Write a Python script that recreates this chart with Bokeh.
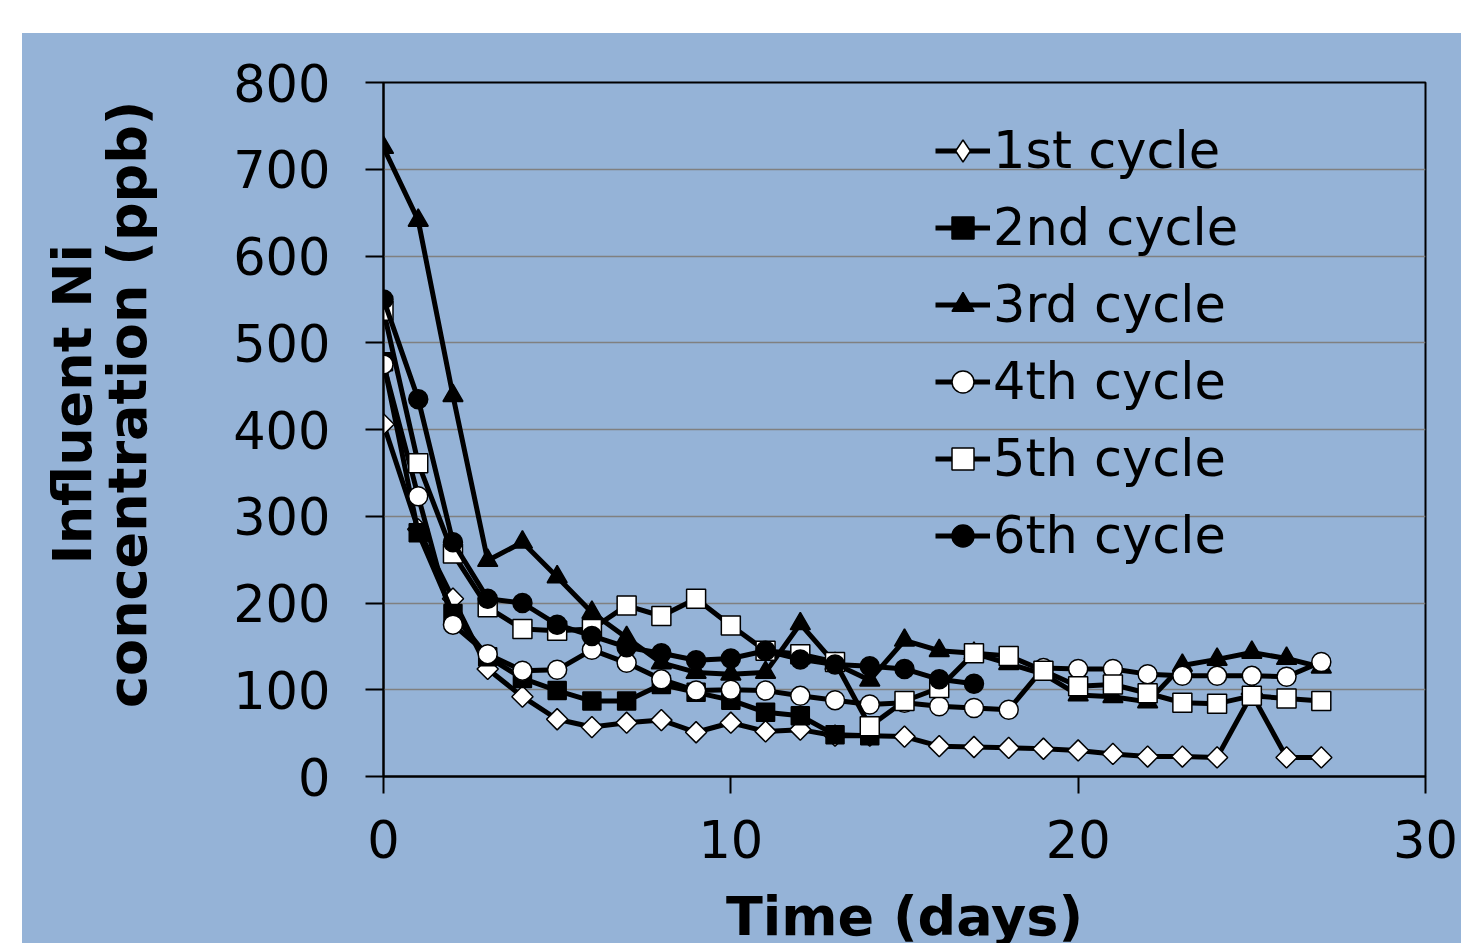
import math
from bokeh.plotting import figure
from bokeh.layouts import row
from bokeh.models import Legend, LegendItem, FixedTicker
from bokeh.core.properties import value
from bokeh.embed import file_html
from bokeh.resources import INLINE

# ---------------- data ----------------
days = list(range(28))
cycle1 = [406, 285, 205, 124, 92, 66, 57, 62, 65, 51, 62, 52, 54, 47, 47, 46, 35, 34,
          33, 32, 30, 26, 23, 23, 22, 95, 22, 22]
cycle2 = [478, 281, 188, 138, 113, 99, 87, 87, 106, 97, 88, 74, 70, 48, 47]
cycle3 = [725, 641, 439, 249, 270, 230, 189, 160, 131, 120, 118, 120, 176, 130, 111, 157,
          145, 142, 130, 118, 94, 92, 86, 128, 135, 143, 136, 126]
cycle4 = [475, 323, 175, 141, 122, 123, 146, 131, 112, 99, 100, 99, 93, 88, 83, 85, 81,
          79, 77, 125, 124, 124, 118, 116, 116, 116, 115, 132]
cycle5 = [537, 361, 257, 195, 170, 168, 170, 197, 185, 205, 174, 145, 141, 132, 58, 87,
          102, 142, 139, 122, 104, 106, 96, 85, 84, 93, 90, 87]
cycle6 = [550, 435, 270, 205, 200, 175, 162, 149, 142, 134, 136, 145, 135, 129, 127, 124,
          112, 107]

series_names = ["1st cycle", "2nd cycle", "3rd cycle", "4th cycle", "5th cycle", "6th cycle"]
series_values = [cycle1, cycle2, cycle3, cycle4, cycle5, cycle6]
x_ticks = [0, 10, 20, 30]
y_ticks = [0, 100, 200, 300, 400, 500, 600, 700, 800]
y_title_lines = ["Influent Ni", "concentration (ppb)"]
x_title = "Time (days)"

# ---------------- styles ----------------
BG = "#95B3D7"
FONT = "DejaVu Sans"
styles = [
    dict(marker="square", fill="white", size=15, angle=math.pi / 4),
    dict(marker="square", fill="black", size=18, angle=0),
    dict(marker="triangle", fill="black", size=20, angle=0),
    dict(marker="circle", fill="white", size=19, angle=0),
    dict(marker="square", fill="white", size=19, angle=0),
    dict(marker="circle", fill="black", size=19, angle=0),
]

LEFT_W = 200
FRAME_W, FRAME_H = 1042, 694
FRAME_LEFT_ABS, FRAME_BOTTOM_ABS = 383, 776

# ---------- left panel holding the rotated y-axis title ----------
# (its frame is aligned by the row with the main chart's frame)
lp = figure(width=LEFT_W, height=943 - 33, output_backend="svg", toolbar_location=None,
            x_range=(0, LEFT_W), y_range=(0, FRAME_H), x_axis_type=None, y_axis_type=None,
            min_border=0)
lp.background_fill_color = None
lp.border_fill_color = None
lp.outline_line_color = None
lp.text(x=[72 - 22, 127 - 22], y=[FRAME_BOTTOM_ABS - 407] * 2, text=y_title_lines,
        angle=math.pi / 2, text_align="center", text_baseline="middle",
        text_font=value(FONT), text_font_style="bold", text_font_size="54px",
        text_color="black")

# ---------- main chart ----------
p = figure(frame_width=FRAME_W, frame_height=FRAME_H, output_backend="svg",
           toolbar_location=None, x_range=(0, 30), y_range=(0, 800),
           min_border_left=FRAME_LEFT_ABS - 22 - LEFT_W, min_border_right=36,
           min_border_top=49, min_border_bottom=167)
p.background_fill_color = None
p.border_fill_color = None
p.outline_line_color = "black"
p.outline_line_width = 2

p.xgrid.visible = False
p.ygrid.grid_line_color = "#808080"
p.ygrid.grid_line_width = 1.5

p.xaxis.ticker = FixedTicker(ticks=x_ticks)
p.yaxis.ticker = FixedTicker(ticks=y_ticks)
for ax in (p.xaxis[0], p.yaxis[0]):
    ax.axis_line_color = "black"
    ax.axis_line_width = 2
    ax.major_tick_line_color = "black"
    ax.major_tick_line_width = 2
    ax.major_tick_in = 0
    ax.minor_tick_line_color = None
    ax.major_label_text_font = FONT
    ax.major_label_text_font_size = "51px"
    ax.major_label_text_color = "black"
p.xaxis.major_tick_out = 17
p.yaxis.major_tick_out = 18
p.xaxis.major_label_standoff = 26
p.yaxis.major_label_standoff = 35

p.xaxis.axis_label = x_title
p.xaxis.axis_label_text_font = FONT
p.xaxis.axis_label_text_font_size = "54px"
p.xaxis.axis_label_text_font_style = "bold"
p.xaxis.axis_label_text_color = "black"
p.xaxis.axis_label_standoff = 24

items = []
for i, (name, vals, st) in enumerate(zip(series_names, series_values, styles)):
    xs = days[:len(vals)]
    r_line = p.line(xs, vals, line_color="black", line_width=5)
    leg_mark = None
    if i == 0:
        # upright diamond for the legend (legend glyphs ignore the marker angle);
        # in the plot it sits hidden under the rotated-square diamonds drawn next
        leg_mark = p.scatter(xs, vals, marker="diamond", size=19,
                             fill_color="white", line_color="black", line_width=1.5)
    r_mark = p.scatter(xs, vals, marker=st["marker"], size=st["size"], angle=st["angle"],
                       fill_color=st["fill"], line_color="black", line_width=1.5)
    items.append(LegendItem(label=name, renderers=[r_line, leg_mark or r_mark]))

legend = Legend(items=items, location=(552, 202))
legend.label_text_font = FONT
legend.label_text_font_size = "51px"
legend.label_text_color = "black"
legend.label_height = 77
legend.glyph_height = 77
legend.glyph_width = 55
legend.label_standoff = 3
legend.spacing = 0
legend.padding = 0
legend.margin = 0
legend.background_fill_alpha = 0
legend.border_line_alpha = 0
p.add_layout(legend)

layout = row(lp, p, spacing=0)
layout.margin = (33, 0, 0, 22)
layout.styles = {"background-color": BG}

open("out.html", "w").write(file_html(layout, INLINE))
